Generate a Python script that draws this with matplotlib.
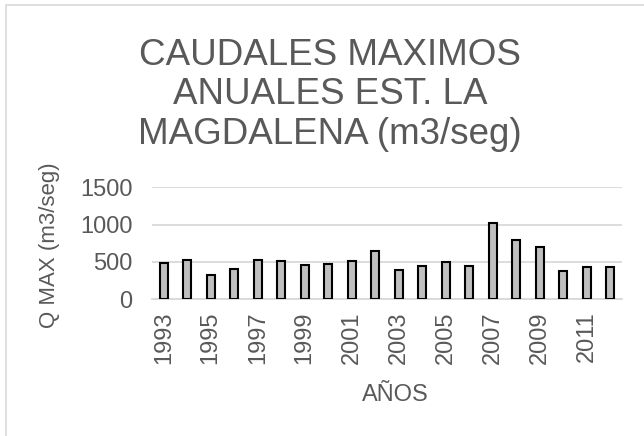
import matplotlib
matplotlib.use("Agg")
import matplotlib.pyplot as plt
from matplotlib.patches import Rectangle

years = list(range(1993, 2013))
q_max = [490, 520, 322, 406, 519, 514, 460, 469, 505, 643,
         393, 442, 492, 442, 1014, 795, 693, 371, 429, 433]
yticks = [0, 500, 1000, 1500]
title = "CAUDALES MAXIMOS\nANUALES EST. LA\nMAGDALENA (m3/seg)"
xlabel = "AÑOS"
ylabel = "Q MAX (m3/seg)"

plt.rcParams['font.family'] = ['Liberation Sans', 'DejaVu Sans']
txt = '#595959'
W, H = 644, 436
fig = plt.figure(figsize=(W/100, H/100), dpi=100)
fig.patch.set_facecolor('white')
fig.patches.append(Rectangle((5.5/W, -0.1), 1.2, 1 - 5.5/H + 0.1, transform=fig.transFigure,
                             fill=False, edgecolor='#d9d9d9', linewidth=1.2))

ax = fig.add_axes([152/W, 1-299/H, 470/W, (299-187.3)/H])
x = list(range(len(years)))
ax.bar(x, q_max, width=0.34, color='#bfbfbf', edgecolor='black', linewidth=1.5, zorder=3)
ax.set_xlim(-0.5, len(years)-0.5)
ax.set_ylim(0, 1500)
ax.set_yticks(yticks)
ax.set_yticklabels([str(v) for v in yticks], fontsize=17, color=txt)
ax.set_xticks(x[::2])
ax.set_xticklabels([str(y) for y in years[::2]], rotation=90, fontsize=17, color=txt)
ax.tick_params(axis='both', length=0)
ax.tick_params(axis='x', pad=9)
ax.tick_params(axis='y', pad=14)
ax.grid(axis='y', color='#d9d9d9', linewidth=1.3, zorder=0)
for s in ['top', 'right', 'left']:
    ax.spines[s].set_visible(False)
ax.spines['bottom'].set_color('#d9d9d9')
ax.spines['bottom'].set_linewidth(1.3)

fig.text(330/W, 1-95/H, title, ha='center', va='center', fontsize=26.5, color=txt, linespacing=1.18)
fig.text(395/W, 1-395/H, xlabel, ha='center', va='center', fontsize=17, color=txt)
fig.text(50/W, 1-245/H, ylabel, ha='center', va='center', rotation=90, fontsize=16, color=txt)

fig.savefig('out.png', dpi=100, facecolor='white')
